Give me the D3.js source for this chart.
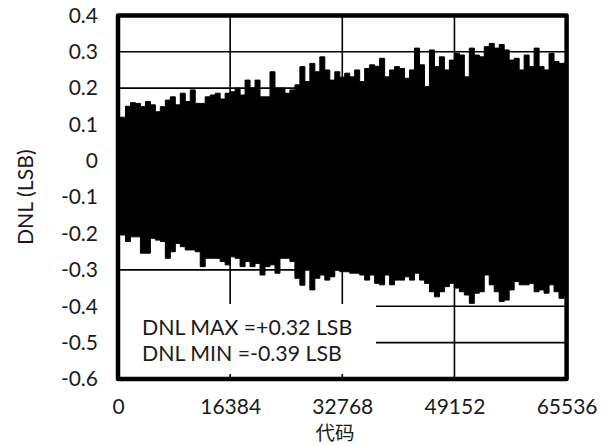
<!DOCTYPE html>
<html>
<head>
<meta charset="utf-8">
<script src="https://cdn.jsdelivr.net/npm/d3@7"></script>
<style>
  body { margin: 0; background: #fff; }
  text { font-family: Lato, "Noto Sans", sans-serif; fill: #1a1a1a; }
  .cjk { font-family: "Noto Sans CJK SC", sans-serif; }
</style>
</head>
<body>
<div id="chart"></div>
<script>
// tick labels
const xTicks = [0, 16384, 32768, 49152, 65536];
const yTicks = [0.4, 0.3, 0.2, 0.1, 0, -0.1, -0.2, -0.3, -0.4, -0.5, -0.6];

// DNL envelope, one sample every 728 codes
const codeStep = 728;
const dnlHigh = [
  0.120, 0.120, 0.150, 0.160, 0.158, 0.149, 0.163, 0.154, 0.135, 0.149,
  0.167, 0.176, 0.154, 0.186, 0.163, 0.195, 0.158, 0.158, 0.176, 0.181,
  0.186, 0.170, 0.186, 0.190, 0.200, 0.181, 0.222, 0.200, 0.222, 0.176,
  0.176, 0.245, 0.200, 0.200, 0.186, 0.195, 0.209, 0.259, 0.218, 0.268,
  0.245, 0.286, 0.250, 0.222, 0.245, 0.230, 0.241, 0.231, 0.250, 0.218,
  0.254, 0.264, 0.260, 0.282, 0.231, 0.250, 0.259, 0.254, 0.227, 0.250,
  0.310, 0.264, 0.204, 0.305, 0.259, 0.286, 0.250, 0.277, 0.296, 0.291,
  0.231, 0.310, 0.291, 0.286, 0.314, 0.323, 0.310, 0.320, 0.305, 0.277,
  0.282, 0.250, 0.291, 0.259, 0.310, 0.259, 0.250, 0.296, 0.273, 0.268,
  0.270
];
const dnlLow = [
  -0.200, -0.204, -0.222, -0.209, -0.209, -0.254, -0.254, -0.213, -0.218, -0.222,
  -0.268, -0.250, -0.227, -0.236, -0.245, -0.245, -0.250, -0.291, -0.268, -0.268,
  -0.268, -0.277, -0.286, -0.264, -0.268, -0.291, -0.277, -0.291, -0.282, -0.314,
  -0.291, -0.286, -0.309, -0.268, -0.268, -0.277, -0.323, -0.342, -0.296, -0.355,
  -0.323, -0.314, -0.328, -0.319, -0.300, -0.305, -0.305, -0.309, -0.309, -0.314,
  -0.328, -0.314, -0.337, -0.341, -0.314, -0.341, -0.328, -0.328, -0.319, -0.328,
  -0.309, -0.328, -0.337, -0.360, -0.374, -0.360, -0.346, -0.337, -0.350, -0.360,
  -0.369, -0.392, -0.364, -0.360, -0.314, -0.341, -0.360, -0.387, -0.383, -0.355,
  -0.332, -0.341, -0.341, -0.337, -0.360, -0.355, -0.364, -0.341, -0.360, -0.378,
  -0.370
];
const noteLines = ["DNL MAX =+0.32 LSB", "DNL MIN =-0.39 LSB"];

const width = 608, height = 446;
const margin = { top: 15.4, right: 41.4, bottom: 67, left: 118 };

const svg = d3.select("#chart")
  .append("svg")
  .attr("width", width)
  .attr("height", height);

const xScale = d3.scaleLinear().domain([0, 65536]).range([margin.left, width - margin.right]);
const yScale = d3.scaleLinear().domain([-0.6, 0.4]).range([height - margin.bottom, margin.top]);

/* gridlines */
svg.append("g")
  .selectAll("line")
  .data(yTicks)
  .join("line")
    .attr("x1", xScale(0)).attr("x2", xScale(65536))
    .attr("y1", d => yScale(d)).attr("y2", d => yScale(d))
    .attr("stroke", "#000").attr("stroke-width", 1.6);

svg.append("g")
  .selectAll("line")
  .data(xTicks)
  .join("line")
    .attr("x1", d => xScale(d)).attr("x2", d => xScale(d))
    .attr("y1", yScale(0.4)).attr("y2", yScale(-0.6))
    .attr("stroke", "#000").attr("stroke-width", 1.6);

/* DNL band */
const samples = dnlHigh.map((hi, i) => ({ code: i * codeStep, hi: hi, lo: dnlLow[i] }));

const band = d3.area()
  .x(d => xScale(Math.min(d.code, 65536)))
  .y0(d => yScale(d.lo))
  .y1(d => yScale(d.hi))
  .curve(d3.curveStep);

svg.append("path")
  .datum(samples)
  .attr("d", band)
  .attr("fill", "#000")
  .attr("stroke", "#000")
  .attr("stroke-width", 1);

/* annotation box */
svg.append("rect")
  .attr("x", xScale(0) + 2)
  .attr("y", 304)
  .attr("width", 376 - xScale(0) - 2)
  .attr("height", 70)
  .attr("fill", "#fff");

svg.append("g")
  .selectAll("text")
  .data(noteLines)
  .join("text")
    .attr("x", 142)
    .attr("y", (d, i) => 335 + i * 26)
    .attr("font-size", 21.3)
    .text(d => d);

/* frame */
svg.append("rect")
  .attr("x", xScale(0))
  .attr("y", yScale(0.4))
  .attr("width", xScale(65536) - xScale(0))
  .attr("height", yScale(-0.6) - yScale(0.4))
  .attr("fill", "none")
  .attr("stroke", "#000")
  .attr("stroke-width", 4.5)
  .attr("stroke-linejoin", "round");

/* axes */
const leftAxis = d3.axisLeft(yScale)
  .tickValues(yTicks)
  .tickSize(0)
  .tickPadding(20)
  .tickFormat(d => String(d));

svg.append("g")
  .attr("transform", `translate(${margin.left},0)`)
  .call(leftAxis)
  .call(g => g.select(".domain").remove())
  .selectAll("text")
    .attr("font-size", 21)
    .attr("font-family", "Lato, sans-serif")
    .attr("fill", "#1a1a1a");

const bottomAxis = d3.axisBottom(xScale)
  .tickValues(xTicks)
  .tickSize(0)
  .tickPadding(20)
  .tickFormat(d => String(d));

svg.append("g")
  .attr("transform", `translate(0,${height - margin.bottom})`)
  .call(bottomAxis)
  .call(g => g.select(".domain").remove())
  .selectAll("text")
    .attr("font-size", 21)
    .attr("font-family", "Lato, sans-serif")
    .attr("fill", "#1a1a1a");

/* axis titles */
svg.append("text")
  .attr("class", "cjk")
  .attr("x", 335)
  .attr("y", 439.5)
  .attr("text-anchor", "middle")
  .attr("font-size", 19.5)
  .text("代码");

svg.append("text")
  .attr("transform", `translate(33,${(yScale(0.4) + yScale(-0.6)) / 2}) rotate(-90)`)
  .attr("text-anchor", "middle")
  .attr("font-size", 21.3)
  .text("DNL (LSB)");
</script>
</body>
</html>
